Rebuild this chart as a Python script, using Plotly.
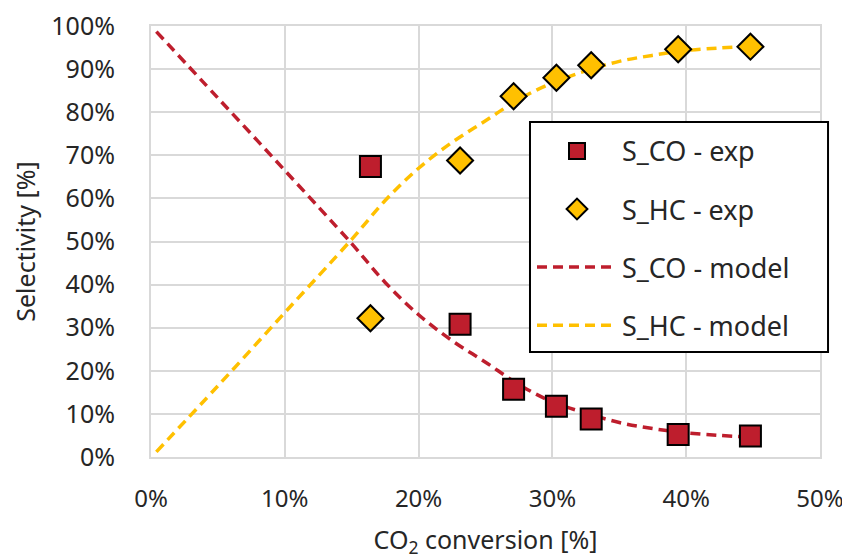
import plotly.graph_objects as go

# experimental points (CO2 conversion %, selectivity %)
conv_exp = [16.4, 23.1, 27.1, 30.3, 32.9, 39.4, 44.8]
sco_exp = [67.4, 30.8, 15.7, 11.8, 8.8, 5.2, 4.9]
shc_exp = [32.2, 68.8, 83.7, 88.0, 90.9, 94.6, 95.2]

# model curves
conv_model = [0.4, 5, 10, 15, 17.5, 20, 22.5, 25, 27.5, 30, 32.5, 35, 37.5, 40, 42.5, 44.7]
sco_model = [98.7, 83.3, 66.5, 49.5, 40.5, 33.0, 27.0, 22.0, 16.8, 12.8, 10.2, 8.0, 6.6, 5.6, 5.0, 4.6]
shc_model = [1.2, 16.5, 33.5, 50.5, 59.5, 67.0, 73.0, 78.0, 83.0, 86.8, 89.6, 91.8, 93.2, 94.3, 94.9, 95.3]

red = "#BE1E2D"
yellow = "#FFC000"
font = "Noto Sans"
txt = "#262626"
fsize = 25

fig = go.Figure()

fig.add_trace(go.Scatter(x=conv_model, y=sco_model, mode="lines", name="S_CO - model",
                         line=dict(color=red, width=3.5, dash="10px,6px", shape="spline"),
                         legendrank=3, legendgroup="c"))
fig.add_trace(go.Scatter(x=conv_model, y=shc_model, mode="lines", name="S_HC - model",
                         line=dict(color=yellow, width=3.5, dash="10px,6px", shape="spline"),
                         legendrank=4, legendgroup="d"))
fig.add_trace(go.Scatter(x=conv_exp, y=sco_exp, mode="markers", name="S_CO - exp",
                         marker=dict(symbol="square", size=21, color=red,
                                     line=dict(color="black", width=2)),
                         legendrank=1, legendgroup="a"))
fig.add_trace(go.Scatter(x=conv_exp, y=shc_exp, mode="markers", name="S_HC - exp",
                         marker=dict(symbol="diamond", size=20, color=yellow,
                                     line=dict(color="black", width=2)),
                         legendrank=2, legendgroup="b"))

axis_common = dict(showgrid=True, gridcolor="#D9D9D9", gridwidth=2,
                   showline=True, linecolor="#D9D9D9", linewidth=2, mirror=True,
                   zeroline=False, automargin=False, ticksuffix="%",
                   ticklabeloverflow="allow")

fig.update_xaxes(range=[0, 50], dtick=10, ticks="", ticklabelstandoff=19,
                 tickfont=dict(family=font, size=24, color=txt),
                 title=dict(text="CO<sub>2</sub> conversion [%]",
                            font=dict(family=font, size=fsize, color=txt), standoff=30),
                 **axis_common)
fig.update_yaxes(range=[0, 100], dtick=10, ticks="outside", ticklen=29,
                 tickcolor="rgba(0,0,0,0)",
                 tickfont=dict(family=font, size=fsize, color=txt),
                 title=dict(text="Selectivity [%]",
                            font=dict(family=font, size=fsize, color=txt), standoff=9),
                 **axis_common)

# legend frame drawn as a shape so its size can match the original
fig.add_shape(type="rect", xref="paper", yref="paper",
              x0=0.5665, x1=1.012, y0=0.2436, y1=0.777,
              line=dict(color="black", width=2), fillcolor="white", layer="above")

# page body has an 8px offset, so the figure is drawn slightly smaller
fig.update_layout(
    width=842, height=551,
    paper_bgcolor="white", plot_bgcolor="white",
    margin=dict(l=143, r=30, t=18, b=102),
    legend=dict(x=0.5695, y=0.766, xanchor="left", yanchor="top",
                bgcolor="rgba(0,0,0,0)", borderwidth=0,
                font=dict(family=font, size=27, color=txt),
                tracegroupgap=20, itemwidth=80, traceorder="grouped"),
)

fig.write_html("out.html")
